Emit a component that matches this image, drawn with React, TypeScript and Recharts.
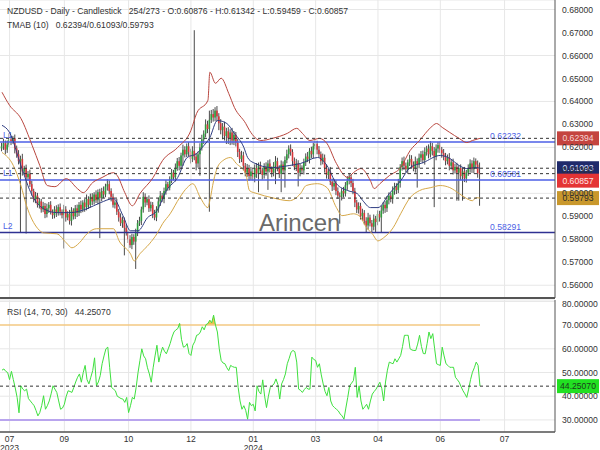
import React from 'react'
import { ComposedChart, Bar, Line, Area, XAxis, YAxis, CartesianGrid, ReferenceLine } from 'recharts'

// daily closes in pips (price x 10000), bar 0 .. 253
const closes = [
  6205, 6218, 6190, 6212, 6235, 6228, 6240, 6196, 6170, 6140,
  6150, 6095, 6110, 6070, 6085, 6040, 6010, 5975, 5990, 5950,
  5965, 5930, 5945, 5910, 5935, 5950, 5920, 5905, 5930, 5915,
  5940, 5920, 5905, 5930, 5895, 5910, 5880, 5925, 5900, 5935,
  5915, 5950, 5930, 5960, 5940, 5975, 5950, 5985, 5965, 5995,
  5970, 6005, 5980, 6010, 5995, 6030, 6040, 6010, 5985, 5950,
  5960, 5920, 5895, 5870, 5885, 5850, 5830, 5800, 5775, 5810,
  5790, 5830, 5870, 5880, 5930, 5985, 5960, 5975, 5935, 5950,
  5910, 5895, 5930, 5965, 5990, 5975, 6010, 6040, 6025, 6060,
  6090, 6070, 6110, 6140, 6120, 6165, 6190, 6170, 6205, 6180,
  6150, 6185, 6160, 6130, 6170, 6200, 6235, 6260, 6300, 6280,
  6320, 6345, 6330, 6360, 6335, 6305, 6275, 6290, 6250, 6270,
  6240, 6265, 6230, 6255, 6220, 6180, 6150, 6165, 6120, 6090,
  6110, 6075, 6095, 6070, 6110, 6085, 6120, 6100, 6080, 6115,
  6095, 6130, 6105, 6090, 6120, 6140, 6110, 6085, 6125, 6100,
  6145, 6170, 6195, 6180, 6140, 6115, 6130, 6090, 6110, 6100,
  6135, 6160, 6150, 6185, 6170, 6205, 6215, 6190, 6170, 6140,
  6155, 6110, 6080, 6095, 6050, 6030, 6045, 6010, 5990, 5985,
  6010, 6000, 6035, 6055, 6070, 6045, 6010, 5960, 5930, 5945,
  5900, 5915, 5880, 5860, 5895, 5870, 5855, 5890, 5875, 5910,
  5895, 5925, 5950, 5935, 5970, 5990, 5975, 6010, 6030, 6015,
  6045, 6115, 6140, 6120, 6105, 6135, 6150, 6125, 6110, 6140,
  6125, 6155, 6170, 6145, 6180, 6195, 6170, 6205, 6185, 6160,
  6195, 6210, 6190, 6175, 6160, 6140, 6155, 6120, 6135, 6100,
  6115, 6090, 6110, 6075, 6095, 6065, 6090, 6110, 6130, 6105,
  6140, 6125, 6088, 6086,
]
const firstOpen = 6195

// wick length above the body / below the body, in pips
const highWick = [
  15, 20, 12, 18, 25, 14, 10, 16, 12, 18,
  14, 22, 10, 15, 12, 18, 14, 10, 16, 12,
  15, 11, 18, 13, 20, 12, 16, 10, 14, 18,
  12, 16, 10, 20, 14, 12, 18, 15, 10, 14,
  16, 12, 18, 10, 15, 20, 12, 14, 16, 10,
  18, 12, 15, 14, 20, 12, 22, 16, 12, 14,
  10, 16, 12, 18, 14, 10, 15, 12, 18, 14,
  12, 16, 14, 18, 12, 20, 15, 10, 16, 14,
  12, 18, 14, 16, 20, 12, 15, 18, 10, 14,
  16, 12, 20, 14, 18, 12, 22, 15, 12, 18,
  14, 20, 525, 16, 12, 18, 20, 14, 22, 16,
  40, 18, 22, 15, 20, 14, 18, 16, 22, 15,
  18, 14, 20, 16, 12, 18, 14, 20, 16, 12,
  18, 14, 20, 12, 16, 22, 14, 18, 12, 16,
  20, 14, 18, 12, 16, 22, 15, 12, 18, 14,
  16, 20, 14, 18, 12, 16, 20, 14, 18, 12,
  16, 14, 20, 12, 18, 15, 22, 14, 16, 12,
  18, 14, 16, 12, 20, 14, 18, 12, 16, 14,
  12, 18, 14, 20, 16, 12, 18, 14, 12, 16,
  14, 18, 12, 16, 20, 12, 14, 18, 12, 16,
  14, 20, 12, 16, 18, 14, 12, 20, 16, 14,
  18, 12, 16, 20, 14, 12, 18, 16, 14, 20,
  12, 18, 14, 16, 20, 12, 18, 22, 14, 16,
  18, 14, 15, 12, 18, 16, 14, 20, 12, 16,
  14, 18, 12, 16, 14, 20, 12, 16, 18, 14,
  16, 12, 18, 46,
]
const lowWick = [
  12, 16, 20, 14, 10, 18, 12, 22, 15, 14,
  310, 18, 14, 245, 16, 12, 20, 14, 18, 12,
  16, 14, 12, 18, 15, 20, 12, 16, 14, 18,
  12, 16, 14, 145, 18, 12, 16, 20, 14, 12,
  18, 14, 16, 12, 20, 14, 18, 12, 16, 14,
  12, 18, 175, 14, 16, 12, 18, 14, 20, 12,
  16, 14, 18, 12, 20, 120, 14, 16, 12, 18,
  14, 119, 16, 12, 18, 14, 20, 12, 16, 14,
  18, 12, 16, 14, 20, 12, 18, 16, 14, 12,
  16, 14, 18, 12, 20, 16, 45, 14, 12, 18,
  20, 14, 16, 30, 18, 93, 14, 20, 16, 18,
  360, 14, 18, 16, 22, 30, 18, 40, 20, 35,
  25, 30, 18, 20, 16, 22, 18, 14, 20, 16,
  18, 20, 16, 14, 22, 18, 80, 14, 20, 16,
  18, 80, 14, 20, 16, 80, 14, 18, 80, 16,
  75, 14, 18, 16, 20, 14, 18, 60, 16, 14,
  18, 16, 14, 20, 16, 18, 14, 20, 16, 18,
  14, 20, 16, 18, 14, 20, 16, 18, 14, 117,
  16, 18, 14, 20, 16, 18, 14, 20, 16, 18,
  14, 20, 16, 32, 18, 14, 27, 16, 47, 14,
  18, 65, 14, 20, 16, 18, 14, 20, 16, 18,
  14, 20, 16, 18, 14, 20, 16, 18, 14, 20,
  100, 16, 18, 14, 20, 16, 18, 14, 20, 220,
  16, 18, 14, 20, 16, 18, 14, 20, 16, 18,
  14, 122, 122, 18, 107, 16, 18, 14, 20, 16,
  18, 14, 20, 140,
]

// TMA bands, [bar, pips]
const upperBand = [
  [0, 6440], [4, 6383], [10, 6326], [16, 6208], [20, 6121], [24, 6034], [28, 6029], [34, 6064],
  [40, 6020], [43, 6003], [48, 6047], [53, 6069], [59, 6090], [61, 6077], [65, 6003], [69, 5946],
  [73, 5999], [80, 6069], [85, 6143], [93, 6200], [100, 6274], [103, 6348], [109, 6405], [110, 6527],
  [113, 6479], [116, 6501], [120, 6435], [123, 6374], [129, 6304], [131, 6274], [137, 6230], [143, 6239],
  [151, 6261], [156, 6283], [159, 6261], [163, 6230], [168, 6239], [172, 6217], [177, 6130], [183, 6069],
  [186, 6090], [190, 6108], [195, 6055], [197, 6021], [200, 6042], [205, 6077], [211, 6112], [216, 6186],
  [221, 6230], [227, 6287], [230, 6304], [233, 6287], [237, 6265], [242, 6239], [246, 6221], [249, 6230],
  [253, 6239.4],
]
const middleBand = [
  [0, 6296], [4, 6265], [10, 6121], [16, 5990], [22, 5933], [29, 5916], [36, 5916], [45, 5933],
  [52, 5959], [59, 5977], [64, 5903], [68, 5837], [72, 5837], [77, 5894], [82, 5924], [87, 6012],
  [93, 6069], [98, 6156], [103, 6173], [106, 6200], [110, 6243], [114, 6317], [119, 6304], [123, 6261],
  [128, 6200], [130, 6156], [133, 6134], [143, 6112], [152, 6121], [158, 6130], [167, 6156], [172, 6121],
  [177, 6042], [183, 6012], [188, 5999], [191, 5968], [195, 5938], [199, 5938], [205, 5999], [211, 6055],
  [216, 6112], [223, 6134], [232, 6165], [237, 6152], [242, 6121], [246, 6108], [251, 6112], [253, 6109.3],
]
const lowerBand = [
  [0, 6178], [6, 6121], [10, 6034], [13, 5946], [19, 5846], [22, 5828], [29, 5824], [34, 5785],
  [37, 5763], [41, 5785], [45, 5824], [50, 5846], [59, 5846], [62, 5793], [68, 5737], [70, 5706],
  [73, 5737], [78, 5780], [82, 5824], [85, 5868], [89, 5911], [94, 5981], [98, 6025], [101, 6042],
  [105, 5981], [109, 5938], [110, 5968], [112, 6055], [114, 6112], [117, 6143], [121, 6156], [124, 6130],
  [129, 6086], [131, 6012], [135, 5999], [143, 5981], [152, 5968], [158, 5999], [161, 6034], [167, 6042],
  [172, 6025], [177, 5938], [180, 5903], [186, 5911], [189, 5903], [193, 5850], [196, 5824], [199, 5793],
  [202, 5807], [207, 5850], [211, 5911], [216, 5981], [221, 6012], [227, 6025], [232, 6034], [237, 6025],
  [242, 5999], [246, 5977], [249, 5968], [251, 5981], [253, 5979.3],
]

// RSI(14), one value per bar
const rsi = [
  51, 51.5, 50.5, 50, 47, 50.5, 47, 43.5, 39.5, 33,
  44.4, 43, 42.3, 43, 39, 38, 37, 36, 34, 31.7,
  33.1, 36, 40.2, 34.5, 36, 38, 41, 44.4, 43, 41.6,
  38, 34.5, 35, 36.6, 40, 42.3, 42, 41.6, 43.7, 46,
  48, 49.4, 45.9, 50, 53, 47, 45.2, 48, 50.8, 56.2,
  44.4, 46, 48.7, 53.7, 57, 60, 60.7, 52, 43.7, 43,
  42.3, 40, 39.5, 39, 38.8, 37.4, 39.5, 33.1, 36, 39.5,
  38.8, 43.7, 50, 55, 60, 57, 55.8, 52, 49.4, 45.9,
  52, 57, 61.5, 54.4, 58, 60.7, 59, 57.9, 60, 62.2,
  65, 67.1, 68, 68.5, 70.7, 64, 60.7, 61, 62.2, 58,
  57.2, 61.5, 63, 65.7, 66, 67.1, 69.3, 68, 70.2, 70.7,
  72.1, 71, 74.2, 70, 67.1, 60, 55.1, 54, 53.7, 52,
  50.8, 53, 52.5, 52.2, 52.2, 43.7, 38, 34.5, 36, 34,
  30.3, 37.4, 36, 36.6, 33.8, 44.4, 42, 40.9, 46.9, 40,
  35.2, 40, 43.7, 44.5, 45.2, 47.3, 45, 38.8, 45.2, 47,
  49.4, 53.7, 56, 58.6, 59.3, 58.8, 54.4, 43, 42.5, 41.6,
  42.8, 43.7, 43, 43, 56.5, 55.5, 55.1, 52.2, 53.7, 49,
  45.2, 42, 40.2, 43.7, 38, 36, 35.2, 34.5, 33.8, 32.5,
  31.7, 30.3, 35, 39.5, 44.4, 45.5, 46.6, 52.2, 39.5, 44.4,
  38, 34.5, 35.5, 36.6, 34.5, 38, 40.9, 42, 43, 44.5,
  45.9, 43.4, 38, 46, 51, 54.4, 54, 53.7, 55.8, 54.4,
  55.8, 57.2, 61, 65.7, 65.7, 65.7, 60, 59.5, 59.3, 59.3,
  62, 65.7, 61, 58, 57.9, 62.2, 67.1, 64.3, 66.4, 60,
  53.7, 53.3, 53, 60.7, 57, 53.7, 53, 52.2, 52.2, 52.2,
  48, 47, 45.9, 44, 42.3, 41, 39.5, 43, 47, 50.1,
  52, 54.4, 53, 44.2507,
]

const monthTicks = [4, 33, 67, 100, 133, 166, 199, 232, 266]
const monthLabels = [['07', '2023'], ['09'], ['10'], ['12'], ['01', '2024'], ['03'], ['04'], ['06'], ['07']]
const priceTicks = [0.56, 0.57, 0.58, 0.59, 0.6, 0.61, 0.62, 0.63, 0.64, 0.65, 0.66, 0.67, 0.68]
const rsiTicks = [30, 40, 50, 60, 70, 80]

const levels = [
  { name: 'L1', value: 0.62232, color: '#4d5fe6' },
  { name: 'L1', value: 0.60581, color: '#4d5fe6' },
  { name: 'L2', value: 0.58291, color: '#2f3192' },
]
const lastValues = [
  { value: 0.62394, bg: '#c4443f', fg: '#f6d6d4', shift: 0 },
  { value: 0.61093, bg: '#1f2a6b', fg: '#dfe4ff', shift: 0 },
  { value: 0.60857, bg: '#e43434', fg: '#ffe4e4', shift: 7 },
  { value: 0.59793, bg: '#c9982c', fg: '#2b2b2b', shift: 0 },
]
const rsiLast = 44.2507

const pip = (v: number) => v / 10000

const rows: any[] = closes.map((c, i) => {
  const o = i === 0 ? firstOpen : closes[i - 1]
  const h = Math.max(o, c) + highWick[i]
  const l = Math.min(o, c) - lowWick[i]
  return { i, o: pip(o), c: pip(c), h: pip(h), l: pip(l), range: [pip(l), pip(h)], rsi: rsi[i] }
})
const toPoints = (band: number[][]) => band.map(([i, v]) => ({ i, v: pip(v) }))
const bands = [
  { key: 'up', data: toPoints(upperBand), color: '#b9473f' },
  { key: 'mid', data: toPoints(middleBand), color: '#2e3c82' },
  { key: 'dn', data: toPoints(lowerBand), color: '#d6a849' },
]

const X_DOMAIN = [-1.06, 292.7]
const FONT = '"Liberation Sans", Arial, sans-serif'
const GRID = '#e7e7e7'
const TXT = '#333'

const Candle = (props: any) => {
  const { x, y, width, height, payload } = props
  if (!payload || x == null) return null
  const top = Math.min(y, y + height)
  const hh = Math.abs(height)
  const span = payload.h - payload.l
  const k = span > 0 ? hh / span : 0
  const cx = x + width / 2
  const yO = top + (payload.h - payload.o) * k
  const yC = top + (payload.h - payload.c) * k
  const up = payload.c >= payload.o
  return (
    <g>
      <line x1={cx} x2={cx} y1={top} y2={top + hh} stroke="#4a4a4a" strokeWidth={1} />
      <rect x={cx - 0.8} y={Math.min(yO, yC)} width={1.6} height={Math.max(1, Math.abs(yO - yC))} fill={up ? '#2e9e3e' : '#d8363a'} />
    </g>
  )
}

const PriceTag = (props: any) => {
  const { viewBox, text, bg, fg, shift = 0 } = props
  if (!viewBox) return null
  const x = viewBox.x + viewBox.width + 2
  const y = viewBox.y + shift
  return (
    <g>
      <rect x={x} y={y - 7} width={42} height={14} fill={bg} />
      <text x={x + 21} y={y + 3} textAnchor="middle" fontSize={8.6} fontFamily={FONT} fill={fg}>{text}</text>
    </g>
  )
}

const LevelLabel = (props: any) => {
  const { viewBox, name, text, color } = props
  if (!viewBox) return null
  return (
    <g fontSize={8.6} fontFamily={FONT} fill={color}>
      <text x={viewBox.x + 3} y={viewBox.y - 4}>{name}</text>
      <text x={viewBox.x + 490} y={viewBox.y - 3}>{text}</text>
    </g>
  )
}

const MonthTick = (props: any) => {
  const { x, y, payload } = props
  const lines = monthLabels[monthTicks.indexOf(payload.value)] || []
  return (
    <text x={x} y={y} textAnchor="middle" fontSize={8.6} fontFamily={FONT} fill={TXT}>
      {lines.map((s, k) => (
        <tspan key={k} x={x} dy={k === 0 ? 8 : 8.5}>{s}</tspan>
      ))}
    </text>
  )
}

const axisTick = { fontSize: 8.6, fill: TXT, fontFamily: FONT }

function PriceChart() {
  return (
    <ComposedChart width={600} height={299} data={rows} margin={{ top: 0, right: 0, bottom: 0, left: 0 }}>
      <CartesianGrid vertical={false} stroke={GRID} />
      <XAxis dataKey="i" type="number" domain={X_DOMAIN} ticks={monthTicks} height={1} tick={false} tickLine={false} axisLine={{ stroke: '#555', strokeWidth: 2 }} allowDataOverflow />
      <YAxis orientation="right" width={45} domain={[0.55445, 0.68415]} ticks={priceTicks} tickFormatter={(v: number) => v.toFixed(5)} tick={axisTick} tickSize={0} tickMargin={7} axisLine={{ stroke: '#555' }} allowDataOverflow />
      {monthTicks.map((t) => (
        <ReferenceLine key={'v' + t} x={t} stroke={GRID} />
      ))}
      {levels.map((lv) => (
        <ReferenceLine key={'l' + lv.value} y={lv.value} stroke={lv.color} strokeWidth={1.5}
          label={<LevelLabel name={lv.name} text={lv.value.toFixed(5)} color={lv.name === 'L2' ? '#4d5fe6' : lv.color} />} />
      ))}
      <Bar dataKey="range" barSize={1} shape={Candle} isAnimationActive={false} />
      {bands.map((b) => (
        <Line key={b.key} data={b.data} dataKey="v" type="monotone" stroke={b.color} strokeWidth={1} dot={false} activeDot={false} isAnimationActive={false} />
      ))}
      {lastValues.map((lv) => (
        <ReferenceLine key={'d' + lv.value} y={lv.value} stroke="#333" strokeDasharray="3 3"
          label={<PriceTag text={lv.value.toFixed(5)} bg={lv.bg} fg={lv.fg} shift={lv.shift} />} />
      ))}
    </ComposedChart>
  )
}

function RsiChart() {
  return (
    <ComposedChart width={600} height={151} data={rows} margin={{ top: 1, right: 0, bottom: 0, left: 0 }}>
      <CartesianGrid vertical={false} stroke={GRID} />
      <XAxis dataKey="i" type="number" domain={X_DOMAIN} ticks={monthTicks} height={18} tick={<MonthTick />} tickLine={false} tickSize={0} axisLine={{ stroke: '#555', strokeWidth: 1.5 }} allowDataOverflow />
      <YAxis orientation="right" width={45} domain={[24.9, 80.6]} ticks={rsiTicks} tickFormatter={(v: number) => v.toFixed(5)} tick={axisTick} tickSize={0} tickMargin={7} axisLine={{ stroke: '#555' }} allowDataOverflow />
      {monthTicks.map((t) => (
        <ReferenceLine key={'v' + t} x={t} stroke={GRID} />
      ))}
      <ReferenceLine segment={[{ x: -1.06, y: 70 }, { x: 253, y: 70 }]} stroke="#f3c982" strokeWidth={1.5} />
      <ReferenceLine segment={[{ x: -1.06, y: 30 }, { x: 253, y: 30 }]} stroke="#b9a5ee" strokeWidth={2} />
      <Area dataKey={(d: any) => [70, Math.max(70, d.rsi)]} type="linear" stroke="none" fill="#e9b834" fillOpacity={0.85} isAnimationActive={false} />
      <Line dataKey="rsi" type="linear" stroke="#3ee03e" strokeWidth={1} dot={false} activeDot={false} isAnimationActive={false} />
      <ReferenceLine y={rsiLast} stroke="#333" strokeDasharray="3 3"
        label={<PriceTag text={rsiLast.toFixed(5)} bg="#22e022" fg="#1c3a1c" />} />
    </ComposedChart>
  )
}

export default function App() {
  return (
    <div style={{ position: 'absolute', left: 0, top: 0, width: 600, height: 450, background: '#fff', overflow: 'hidden', fontFamily: FONT }}>
      <PriceChart />
      <RsiChart />
      <div style={{ position: 'absolute', left: 7, top: 6, fontSize: 8.6, lineHeight: '10px', color: TXT, whiteSpace: 'pre', pointerEvents: 'none' }}>
        {'NZDUSD - Daily - Candlestick   254/273 - O:0.60876 - H:0.61342 - L:0.59459 - C:0.60857'}
      </div>
      <div style={{ position: 'absolute', left: 7, top: 20, fontSize: 8.6, lineHeight: '10px', color: TXT, whiteSpace: 'pre', pointerEvents: 'none' }}>
        {'TMAB (10)   0.62394/0.61093/0.59793'}
      </div>
      <div style={{ position: 'absolute', left: 7, top: 307, fontSize: 8.6, lineHeight: '10px', color: TXT, whiteSpace: 'pre', pointerEvents: 'none' }}>
        {'RSI (14, 70, 30)   44.25070'}
      </div>
      <div style={{ position: 'absolute', left: 259, top: 211, fontSize: 24, lineHeight: '24px', color: '#6a6a6a', pointerEvents: 'none' }}>
        Arincen
      </div>
    </div>
  )
}
